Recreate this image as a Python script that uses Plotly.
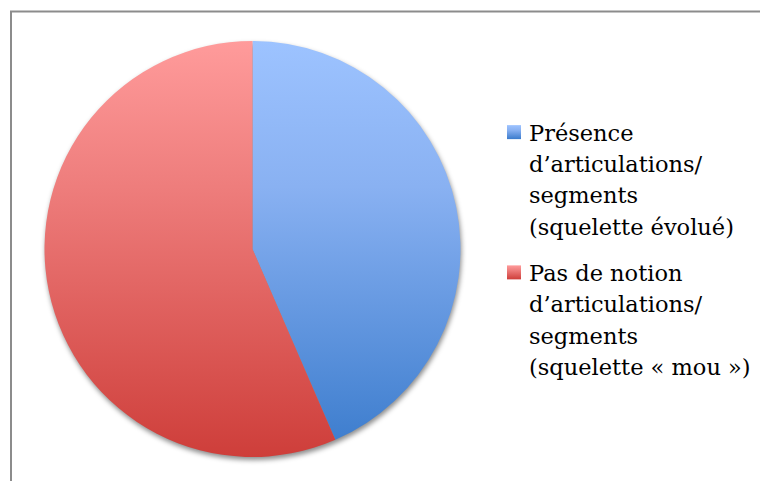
import base64
import json
import plotly.graph_objects as go

# ---- data ----
labels = [
    "Présence<br>d’articulations/<br>segments<br>(squelette évolué)<br> ",
    "Pas de notion<br>d’articulations/<br>segments<br>(squelette « mou »)",
]
values = [10, 13]
colors = ["#79A6EC", "#E8706D"]  # mid-tone fallback colours
gradients = [  # vertical gradient stops (top -> bottom) per slice
    [[0, "#9DC3FF"], [0.35, "#89B1F2"], [1, "#3A7BCC"]],
    [[0, "#FF9B9B"], [0.35, "#EE7D7C"], [1, "#CE3E3A"]],
]

# page is offset by the 8px body margin: all positions below are figure px
W, H = 768, 481
cx, cy, r = 244.5, 241.0, 208.0


def svg_uri(svg):
    return "data:image/svg+xml;base64," + base64.b64encode(svg.encode("utf-8")).decode("ascii")


shadow_svg = (
    '<svg xmlns="http://www.w3.org/2000/svg" width="440" height="440" viewBox="0 0 440 440">'
    '<defs><filter id="b" x="-10%" y="-10%" width="120%" height="120%">'
    '<feGaussianBlur stdDeviation="2.5"/></filter></defs>'
    '<circle cx="221" cy="223" r="208" fill="#000000" fill-opacity="0.45" filter="url(#b)"/></svg>'
)

fig = go.Figure(
    go.Pie(
        labels=labels,
        values=values,
        sort=False,
        direction="clockwise",
        rotation=0,
        textinfo="none",
        hoverinfo="label+value",
        marker=dict(colors=colors, line=dict(width=0)),
        domain=dict(x=[(cx - r) / W, (cx + r) / W], y=[(H - cy - r) / H, (H - cy + r) / H]),
    )
)

fig.update_layout(
    width=W,
    height=H,
    margin=dict(l=0, r=0, t=0, b=0),
    paper_bgcolor="white",
    plot_bgcolor="white",
    showlegend=True,
    legend=dict(
        x=481 / W,
        y=1 - 103 / H,
        xanchor="left",
        yanchor="top",
        valign="top",
        font=dict(family="DejaVu Serif", size=22.5, color="#000000"),
        bgcolor="rgba(0,0,0,0)",
    ),
    images=[
        dict(
            source=svg_uri(shadow_svg),
            xref="paper", yref="paper",
            x=(cx - 220) / W, y=1 - (cy - 220) / H,
            sizex=440 / W, sizey=440 / H,
            xanchor="left", yanchor="top",
            sizing="stretch", layer="below",
        ),
    ],
    shapes=[
        dict(
            type="rect", xref="paper", yref="paper",
            x0=3 / W, x1=1.05, y0=-0.05, y1=1 - 3.5 / H,
            line=dict(color="#8C8C8C", width=2),
            fillcolor="rgba(0,0,0,0)",
            layer="above",
        )
    ],
)

post_js = """
(function(){
  var gd = document.getElementById('{plot_id}');
  var GR = %s;
  var ns = 'http://www.w3.org/2000/svg';
  var svg = gd.querySelector('svg.main-svg');
  var defs = document.createElementNS(ns, 'defs');
  svg.insertBefore(defs, svg.firstChild);
  function mk(id, stops, user, y1, y2){
    var g = document.createElementNS(ns, 'linearGradient');
    g.setAttribute('id', id);
    g.setAttribute('x1', '0'); g.setAttribute('x2', '0');
    if (user) { g.setAttribute('gradientUnits', 'userSpaceOnUse'); }
    g.setAttribute('y1', y1); g.setAttribute('y2', y2);
    stops.forEach(function(s){
      var st = document.createElementNS(ns, 'stop');
      st.setAttribute('offset', s[0]); st.setAttribute('stop-color', s[1]);
      g.appendChild(st);
    });
    defs.appendChild(g);
  }
  var paths = gd.querySelectorAll('g.slice path.surface');
  var minY = Infinity, maxY = -Infinity;
  paths.forEach(function(p){
    var b = p.getBBox();
    minY = Math.min(minY, b.y); maxY = Math.max(maxY, b.y + b.height);
  });
  GR.forEach(function(st, i){
    mk('pieg' + i, st, true, minY, maxY);
    mk('legg' + i, st, false, 0, 1);
  });
  paths.forEach(function(p, k){
    var d = p.parentNode.__data__;
    var i = (d && d.i !== undefined) ? d.i : k;
    p.style.fill = 'url(#pieg' + i + ')';
  });
  gd.querySelectorAll('path.legendpie').forEach(function(p, k){
    p.setAttribute('d', 'M12,7V-7H-2V7Z');
    p.style.fill = 'url(#legg' + k + ')';
  });
  gd.querySelectorAll('g.legend text.legendtext tspan.line').forEach(function(t){
    var dy = t.getAttribute('dy');
    if (dy) {
      var v = parseFloat(dy);
      if (!isNaN(v)) { t.setAttribute('dy', (v * 1.39 / 1.3) + 'em'); }
    }
  });
  gd.querySelectorAll('g.legend g.traces').forEach(function(t, k){
    if (k < 1) return;
    var tr = t.getAttribute('transform') || '';
    var m = tr.match(/translate\\(\\s*([-\\d.e]+)[ ,]+([-\\d.e]+)\\s*\\)/);
    if (m) {
      t.setAttribute('transform', 'translate(' + m[1] + ',' + (parseFloat(m[2]) - 9 * k) + ')');
    }
  });
})();
""" % json.dumps(gradients)

fig.write_html("out.html", post_script=post_js)
